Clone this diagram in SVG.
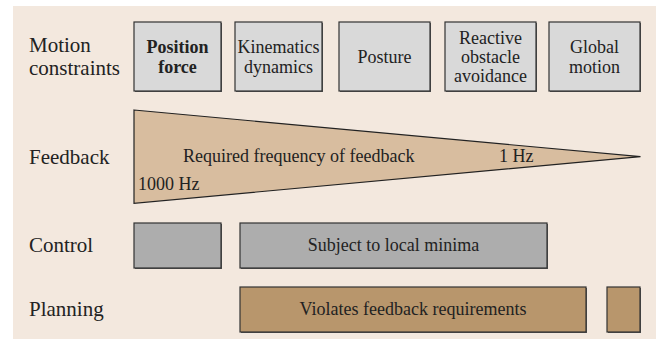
<svg xmlns="http://www.w3.org/2000/svg" width="656" height="339" viewBox="0 0 656 339" font-family="'Liberation Serif', 'Times New Roman', Tinos, 'DejaVu Serif', serif">
<style>
text{font-family:'Liberation Serif','Times New Roman',Tinos,'DejaVu Serif',serif;fill:#222;}
.lbl{font-size:21px;}
.t{font-size:18px;text-anchor:middle;}
.box{stroke:#333;stroke-width:1.2;}
.sh{fill:#555;}
.top{fill:#d9d9d9;}
.ctl{fill:#adadad;}
.pln{fill:#b8966c;}
</style>
<rect x="13" y="6" width="643" height="333" fill="#f3e8de"/>
<g id="labels">
<text class="lbl" x="29" y="52">Motion</text>
<text class="lbl" x="29" y="75">constraints</text>
<text class="lbl" x="29" y="164">Feedback</text>
<text class="lbl" x="29" y="252">Control</text>
<text class="lbl" x="29" y="316">Planning</text>
</g>
<g id="node-position">
<rect class="sh" x="135" y="23" width="87" height="69"/>
<rect class="box top" x="134" y="22" width="87" height="69"/>
<text class="t" x="177.5" y="53" font-weight="bold">Position</text>
<text class="t" x="177.5" y="73" font-weight="bold">force</text>
</g>
<g id="node-kinematics">
<rect class="sh" x="236" y="23" width="87" height="69"/>
<rect class="box top" x="235" y="22" width="87" height="69"/>
<text class="t" x="278.5" y="53">Kinematics</text>
<text class="t" x="278.5" y="73">dynamics</text>
</g>
<g id="node-posture">
<rect class="sh" x="340" y="23" width="91" height="69"/>
<rect class="box top" x="339" y="22" width="91" height="69"/>
<text class="t" x="384.5" y="63">Posture</text>
</g>
<g id="node-reactive">
<rect class="sh" x="446" y="23" width="91" height="69"/>
<rect class="box top" x="445" y="22" width="91" height="69"/>
<text class="t" x="490.5" y="44">Reactive</text>
<text class="t" x="490.5" y="63">obstacle</text>
<text class="t" x="490.5" y="82">avoidance</text>
</g>
<g id="node-global">
<rect class="sh" x="550" y="23" width="91" height="69"/>
<rect class="box top" x="549" y="22" width="91" height="69"/>
<text class="t" x="594.5" y="53">Global</text>
<text class="t" x="594.5" y="73">motion</text>
</g>
<g id="node-feedback">
<polygon points="134,110 640.5,156.7 134,203.3" fill="#d8bd9f" stroke="#222" stroke-width="1.2" stroke-linejoin="miter"/>
<text x="183" y="162" font-size="18">Required frequency of feedback</text>
<text x="499" y="162" font-size="18">1 Hz</text>
<text x="138" y="190" font-size="18">1000 Hz</text>
</g>
<g id="node-control-a">
<rect class="sh" x="135" y="224" width="87" height="45"/>
<rect class="box ctl" x="134" y="223" width="87" height="45"/>
</g>
<g id="node-control-b">
<rect class="sh" x="241" y="224" width="307" height="45"/>
<rect class="box ctl" x="240" y="223" width="307" height="45"/>
<text class="t" x="393.5" y="251">Subject to local minima</text>
</g>
<g id="node-planning-a">
<rect class="sh" x="241" y="288" width="346" height="45"/>
<rect class="box pln" x="240" y="287" width="346" height="45"/>
<text class="t" x="413" y="315">Violates feedback requirements</text>
</g>
<g id="node-planning-b">
<rect class="sh" x="608" y="288" width="33" height="45"/>
<rect class="box pln" x="607" y="287" width="33" height="45"/>
</g>
<g id="connectors"></g>
</svg>
